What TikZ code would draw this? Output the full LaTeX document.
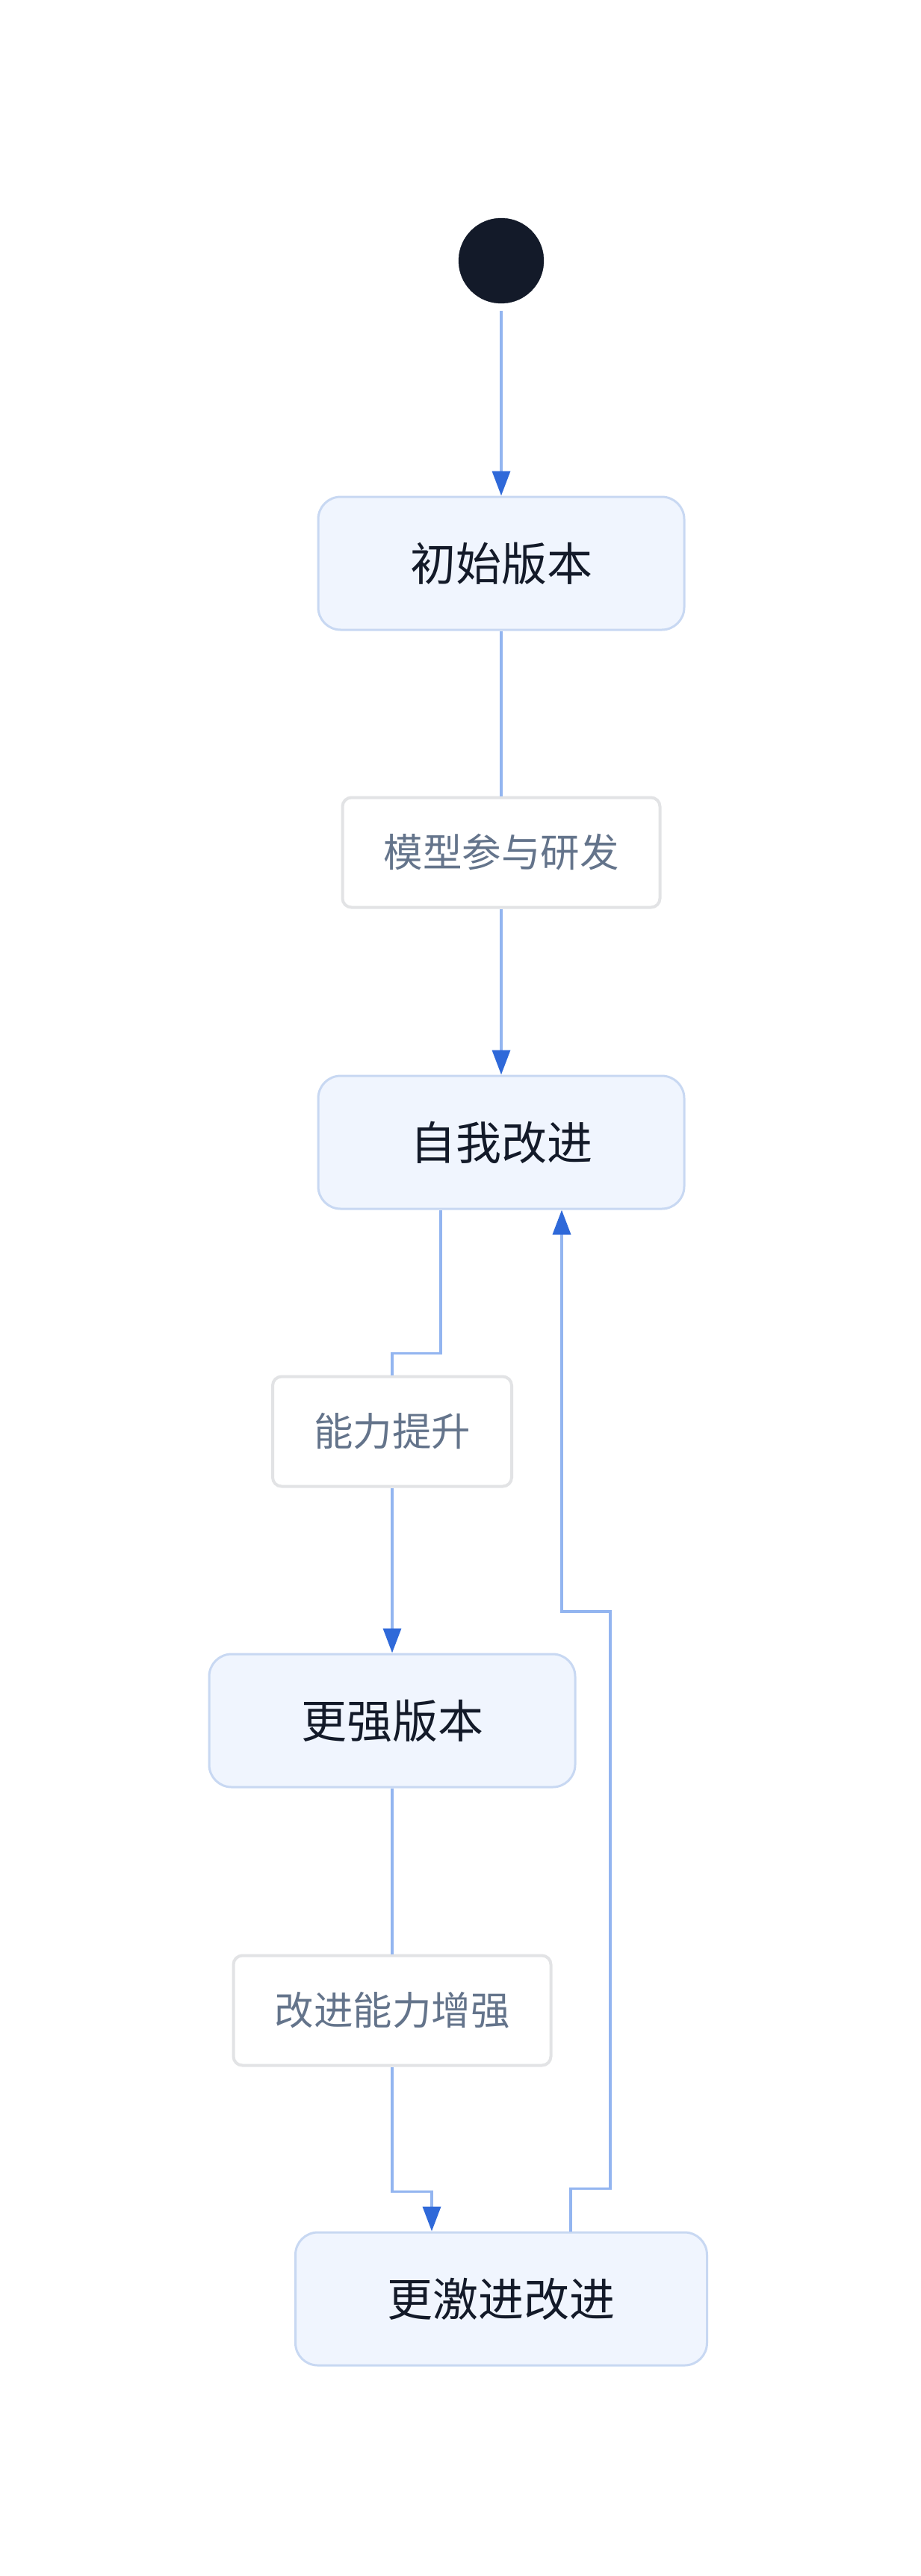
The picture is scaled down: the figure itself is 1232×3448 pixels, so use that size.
\documentclass[tikz,border=0pt]{standalone}
\usepackage{fontspec}
\usepackage{tikz}
\usetikzlibrary{arrows.meta}
\newfontfamily\cjk{Noto Sans CJK SC}

\definecolor{dotcol}{HTML}{131A29}
\definecolor{boxfill}{HTML}{F0F5FE}
\definecolor{boxline}{HTML}{C8D8F2}
\definecolor{linkcol}{HTML}{93B5F0}
\definecolor{tipcol}{HTML}{2F69D9}
\definecolor{lblline}{HTML}{E2E3E5}
\definecolor{lbltext}{HTML}{64748B}

\tikzset{
	state/.style={shape=rectangle,rounded corners=30pt,draw=boxline,fill=boxfill,line width=3pt,
		inner xsep=123pt,inner ysep=0pt,minimum height=178pt,text=dotcol,font=\cjk\fontsize{61}{70}\selectfont},
	lbl/.style={shape=rectangle,rounded corners=12pt,draw=lblline,fill=white,line width=4pt,
		inner xsep=55pt,inner ysep=0pt,minimum height=147pt,text=lbltext,font=\cjk\fontsize{52.5}{60}\selectfont},
	link/.style={draw=linkcol,line width=3.5pt},
	arr/.style={link,-{Triangle[length=33pt,width=24pt,color=tipcol]}}
}

\begin{document}
\begin{tikzpicture}[x=1pt,y=-1pt]
	
	\useasboundingbox (0,0) rectangle (1232,3448);
	
	\node[shape=circle,fill=dotcol,draw=dotcol,minimum size=114pt,inner sep=0pt] (start) at (671, 349) {};
	
	\node[state] (v1) at (671, 754)     {初始版本};
	\node[lbl]   (l1) at (671, 1141)    {模型参与研发};
	\node[state] (v2) at (671, 1529)    {自我改进};
	\node[lbl]   (l2) at (525, 1916)    {能力提升};
	\node[state] (v3) at (525, 2303)    {更强版本};
	\node[lbl]   (l3) at (525, 2691)    {改进能力增强};
	\node[state] (v4) at (671, 3077)    {更激进改进};
	
	\coordinate (back) at (817, 2157);
	
	\path[arr,shorten <=10pt] (start) edge (v1);
	\path[link] (v1) edge (l1);
	\path[arr] (l1) edge (v2);
	\draw[link] ([xshift=-81pt]v2.south) -- ++(0,192) -| (l2.north);
	\path[arr] (l2) edge (v3);
	\path[link] (v3) edge (l3);
	\draw[arr] (l3.south) -- ++(0,167) -| ([xshift=-93pt]v4.north);
	\draw[arr] ([xshift=93pt]v4.north) -- ++(0,-57) -| (back) -| ([xshift=81pt]v2.south);
	
\end{tikzpicture}
\end{document}
